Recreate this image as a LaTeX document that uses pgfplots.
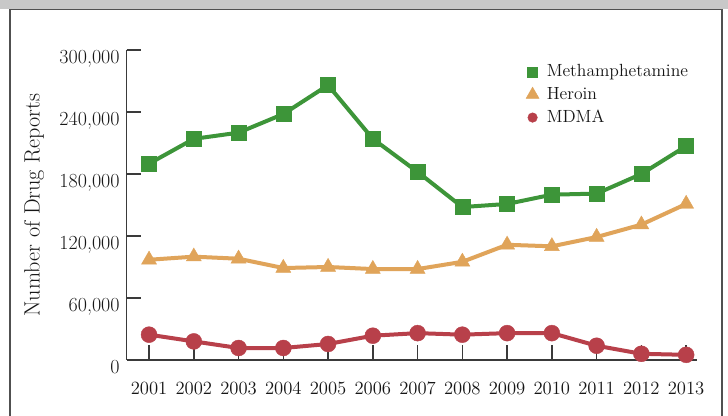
\documentclass[border=0pt]{standalone}
\usepackage{fontspec}
\usepackage{pgfplots}
\pgfplotsset{compat=1.18}
\definecolor{meth}{HTML}{3D9539}
\definecolor{heroin}{HTML}{E0A45A}
\definecolor{mdma}{HTML}{B8404A}
\definecolor{bandgray}{HTML}{C8C8C8}
\definecolor{framegray}{HTML}{505050}
\definecolor{axisgray}{HTML}{3A3A3A}
\definecolor{txt}{HTML}{161616}
\begin{document}
\begin{tikzpicture}
\useasboundingbox (0,0) rectangle (546pt,312pt);
\fill[white] (0,0) rectangle (546pt,312pt);
\fill[bandgray] (0,304.9pt) rectangle (546pt,312pt);
\draw[framegray, line width=1.2pt] (7.5pt,0) -- (7.5pt,304.9pt) -- (541.7pt,304.9pt) -- (541.7pt,0);
\begin{axis}[
  at={(95pt,42pt)}, anchor=south west, scale only axis,
  width=428pt, height=232.5pt,
  xmin=2000.5, xmax=2013.25, ymin=0, ymax=300000,
  axis lines=left, axis line style={-, line width=1.1pt, color=axisgray},
  tick align=inside, major tick length=11pt,
  tick style={line width=1.1pt, color=axisgray},
  xtick={2001,...,2013}, ytick={0,60000,120000,180000,240000,300000},
  scaled y ticks=false,
  /pgf/number format/assume math mode=true,
  x tick label style={/pgf/number format/fixed, /pgf/number format/1000 sep={}, font=\fontsize{14}{16}\selectfont, text=txt, yshift=-13pt},
  y tick label style={/pgf/number format/fixed, /pgf/number format/1000 sep={,}, font=\fontsize{15}{17}\selectfont, text=txt, anchor=base east, yshift=-10pt, xshift=-1.8pt},
  ylabel={Number of Drug Reports},
  ylabel style={at={(axis description cs:-0.162,0.5)}, anchor=center, font=\fontsize{16.6}{18}\selectfont, text=txt},
  clip=false,
  legend image code/.code={\draw[#1] plot coordinates {(0pt,0pt)};},
  legend style={at={(axis description cs:0.6995,0.962)}, anchor=north west, draw=none, fill=none,
    font=\fontsize{13.2}{15}\selectfont, text=txt, row sep=2.5pt, inner sep=0pt,
    /tikz/every odd column/.append style={column sep=3.8pt}},
  legend cell align=left,
]
\addplot[meth, line width=3pt, mark=square*, mark size=5.6pt, mark options={solid, line width=0.3pt},
  legend image post style={mark size=3.75pt}] coordinates {
(2001,190000) (2002,214000) (2003,220000) (2004,238000) (2005,266000) (2006,214000) (2007,182000)
(2008,148000) (2009,151000) (2010,160000) (2011,161000) (2012,180000) (2013,207000)};
\addlegendentry{Methamphetamine}
\addplot[heroin, line width=3pt, mark=triangle*, mark size=6.5pt, mark options={solid, line width=0.3pt},
  legend image post style={mark size=5.6pt}] coordinates {
(2001,97000) (2002,100000) (2003,98000) (2004,89000) (2005,90000) (2006,88000) (2007,88000)
(2008,95000) (2009,111500) (2010,110000) (2011,119000) (2012,131000) (2013,151000)};
\addlegendentry{Heroin}
\addplot[mdma, line width=3pt, mark=*, mark size=6pt, mark options={solid, line width=0.3pt},
  legend image post style={mark size=3.6pt}] coordinates {
(2001,24500) (2002,18000) (2003,11600) (2004,11600) (2005,15500) (2006,23500) (2007,26000)
(2008,24500) (2009,26000) (2010,26000) (2011,13800) (2012,6000) (2013,5000)};
\addlegendentry{MDMA}
\end{axis}
\end{tikzpicture}
\end{document}
